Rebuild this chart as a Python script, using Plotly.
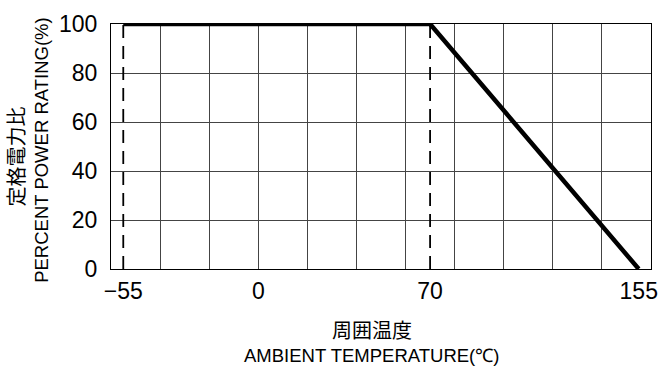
import plotly.graph_objects as go

# Data
derating_temp = [-55, 70, 155]
derating_pct = [100, 100, 0]
dash_temps = [-55, 70]
dash_range = [0, 100]
x_ticks = [-55, 0, 70, 155]
x_tick_text = ["\u221255", "0", "70", "155"]
y_ticks = [0, 20, 40, 60, 80, 100]
x_range = [-60, 160]
y_range = [0, 100]

LAT = "Liberation Sans, Arial, sans-serif"
CJK = "Noto Sans CJK JP, sans-serif"

fig = go.Figure()

for t in dash_temps:
    fig.add_trace(go.Scatter(x=[t, t], y=dash_range, mode="lines",
                             line=dict(color="black", width=1.8, dash="13px,8px"),
                             showlegend=False, hoverinfo="skip"))

fig.add_trace(go.Scatter(x=derating_temp, y=derating_pct, mode="lines",
                         line=dict(color="black", width=4.5),
                         showlegend=False, hoverinfo="skip", cliponaxis=False))

# invisible trace so the labelled overlay axis is drawn
fig.add_trace(go.Scatter(x=derating_temp, y=derating_pct, mode="lines",
                         line=dict(color="rgba(0,0,0,0)", width=0),
                         showlegend=False, hoverinfo="skip", xaxis="x2"))

fig.update_layout(
    width=672, height=374,
    margin=dict(l=111, r=21, t=24, b=105),
    paper_bgcolor="white", plot_bgcolor="white",
    xaxis=dict(range=x_range, dtick=20, tick0=0, showgrid=True, gridcolor="#444", gridwidth=1,
               showticklabels=False, ticks="", zeroline=False,
               showline=True, linecolor="black", linewidth=1.2, mirror=True),
    xaxis2=dict(range=x_range, overlaying="x", anchor="y", side="bottom",
                tickvals=x_ticks, ticktext=x_tick_text,
                showgrid=False, zeroline=False, ticks="", ticklabelstandoff=6,
                tickfont=dict(family=LAT, size=23, color="black")),
    yaxis=dict(range=y_range, tickvals=y_ticks, showgrid=True, gridcolor="#444", gridwidth=1,
               zeroline=False, ticks="", ticklabelstandoff=8,
               showline=True, linecolor="black", linewidth=1.2, mirror=True,
               tickfont=dict(family=LAT, size=23, color="black")),
    annotations=[
        dict(text="定格電力比", xref="paper", yref="paper", x=-0.177, y=0.461,
             xanchor="center", yanchor="middle", textangle=-90, showarrow=False,
             borderpad=0, font=dict(family=CJK, size=20, color="black")),
        dict(text="PERCENT POWER RATING(%)", xref="paper", yref="paper", x=-0.128, y=0.486,
             xanchor="center", yanchor="middle", textangle=-90, showarrow=False,
             borderpad=0, font=dict(family=LAT, size=18.5, color="black")),
        dict(text="周囲温度", xref="paper", yref="paper", x=0.4833, y=-0.245,
             xanchor="center", yanchor="middle", showarrow=False,
             font=dict(family=CJK, size=20, color="black")),
        dict(text="AMBIENT TEMPERATURE(℃)", xref="paper", yref="paper", x=0.4833, y=-0.355,
             xanchor="center", yanchor="middle", showarrow=False,
             font=dict(family=LAT, size=18.5, color="black")),
    ],
)

fig.write_html("out.html")
